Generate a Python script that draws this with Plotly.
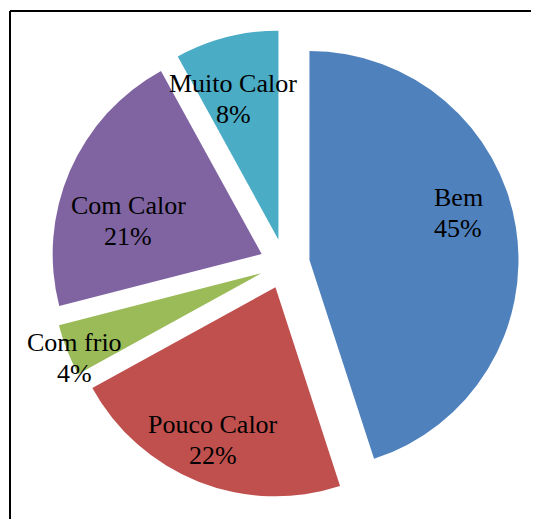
import plotly.graph_objects as go

# Data
categories = ["Bem", "Pouco Calor", "Com frio", "Com Calor", "Muito Calor"]
values = [45, 22, 4, 21, 8]
colors = ["#4F81BD", "#C0504D", "#9BBB59", "#8064A2", "#4BACC6"]

W, H = 539, 519
OFF = 8  # page body margin offset

# label centres (pixels from top-left of the window)
label_pos = [(458, 213), (213, 440), (74, 358), (128, 221), (233, 99)]
LINE_GAP = 31  # px between the two label lines

total = sum(values)

fig = go.Figure()
fig.add_trace(go.Pie(
    labels=categories,
    values=values,
    sort=False,
    direction="clockwise",
    rotation=0,
    pull=[0.12] * len(values),
    marker=dict(colors=colors, line=dict(width=0)),
    textinfo="none",
    hoverinfo="label+percent",
    showlegend=False,
    domain=dict(x=[0.0790, 0.9477], y=[0.0557, 0.9578]),
))

FONT = "Liberation Serif"
for cat, v, (px, py) in zip(categories, values, label_pos):
    pct = round(100 * v / total)
    for txt, dy in ((cat, -LINE_GAP / 2), (f"{pct}%", LINE_GAP / 2)):
        fig.add_annotation(
            x=(px - OFF) / W, y=1 - (py + dy - OFF) / H, xref="paper", yref="paper",
            text=txt, showarrow=False,
            xanchor="center", yanchor="middle",
            font=dict(family=FONT, size=26, color="#000000"),
        )

# chart frame
fx, fy = (10 - OFF) / W, 1 - (11 - OFF) / H
fig.add_shape(type="line", xref="paper", yref="paper",
              x0=fx, y0=fy, x1=fx, y1=-0.1,
              line=dict(color="black", width=2))
fig.add_shape(type="line", xref="paper", yref="paper",
              x0=fx, y0=fy, x1=1.1, y1=fy,
              line=dict(color="black", width=2))

fig.update_layout(
    width=W, height=H,
    margin=dict(l=0, r=0, t=0, b=0, autoexpand=False),
    paper_bgcolor="white", plot_bgcolor="white",
    font=dict(family=FONT),
)

fig.write_html("out.html")
